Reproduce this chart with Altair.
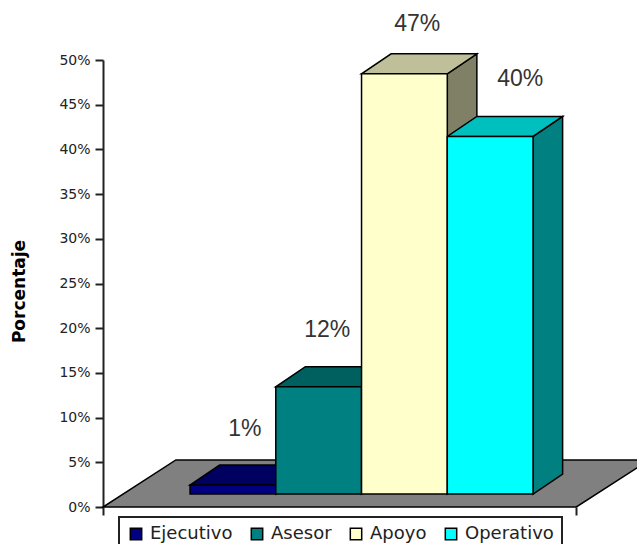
import altair as alt
import pandas as pd

# Survey shares per staff category
categories = ["Ejecutivo", "Asesor", "Apoyo", "Operativo"]
shares = [1, 12, 47, 40]
front_colors = ["#000080", "#008080", "#FFFFCC", "#00FFFF"]
top_colors = ["#000060", "#006060", "#BFBF99", "#00BFBF"]
side_colors = ["#000040", "#004040", "#808066", "#008080"]
y_ticks = [0, 5, 10, 15, 20, 25, 30, 35, 40, 45, 50]

# Oblique projection, in axis units: one x unit is one bar, y units are percent
WIDTH, HEIGHT = 534, 447
X_MAX = WIDTH / 85.75
FIRST_BAR = 1.015
BASE = 1.45
DEPTH_X, DEPTH_Y = 0.345, 2.24
FLOOR_W, FLOOR_DX, FLOOR_DY = 5.52, 0.85, 5.26
# Hand placed data labels: shift from the bar's front top edge
LABEL_SHIFT = {"Ejecutivo": (0.14, 6.3), "Asesor": (0.1, 6.3), "Apoyo": (0.15, 5.6), "Operativo": (0.35, 6.4)}

fronts, tops, sides, labels = [], [], [], []
for i, (name, v) in enumerate(zip(categories, shares)):
    x0, x1 = FIRST_BAR + i, FIRST_BAR + i + 1
    b, t = BASE, BASE + v
    fronts.append({"name": name, "x0": x0, "x1": x1, "b": b, "t": t})
    for x, lo, hi in [(x0, t, t), (x0 + DEPTH_X, t, t + DEPTH_Y), (x1, t, t + DEPTH_Y), (x1 + DEPTH_X, t + DEPTH_Y, t + DEPTH_Y)]:
        tops.append({"name": name, "x": x, "lo": lo, "hi": hi, "c": top_colors[i]})
    for x, lo, hi in [(x1, b, t), (x1 + DEPTH_X, b + DEPTH_Y, t + DEPTH_Y)]:
        sides.append({"name": name, "x": x, "lo": lo, "hi": hi, "c": side_colors[i]})
    sx, sy = LABEL_SHIFT[name]
    labels.append({"x": (x0 + x1) / 2 + sx, "y": t + sy, "text": f"{v}%"})

floor = pd.DataFrame([
    {"x": 0, "lo": 0, "hi": 0},
    {"x": FLOOR_DX, "lo": 0, "hi": FLOOR_DY},
    {"x": FLOOR_W, "lo": 0, "hi": FLOOR_DY},
    {"x": FLOOR_W + FLOOR_DX, "lo": FLOOR_DY, "hi": FLOOR_DY},
])

x_scale = alt.Scale(domain=[0, X_MAX], nice=False, zero=False)
y_scale = alt.Scale(domain=[0, 50], nice=False)

# Every layer carries the same axis definitions so they merge cleanly
x_axis = alt.Axis(
    values=[0, FLOOR_W], labels=False, title=None, grid=False, domain=False,
    tickSize=8, tickWidth=2, tickColor="#222222")
y_axis = alt.Axis(
    values=y_ticks, labelExpr="datum.value + '%'", title="Porcentaje", grid=False,
    domainColor="#222222", domainWidth=2, tickColor="#222222", tickWidth=2, tickSize=8,
    labelFont="DejaVu Sans", labelFontSize=14, labelColor="#222222", labelPadding=5,
    titleFont="DejaVu Sans", titleFontWeight="bold", titleFontSize=17, titleColor="black",
    titleX=-75, titleY=231)

X = alt.X("x:Q", scale=x_scale, axis=x_axis)
Y = alt.Y("lo:Q", scale=y_scale, axis=y_axis)
Y2 = alt.Y2("hi:Q")

floor_layer = alt.Chart(floor).mark_area(orient="vertical", fill="#808080", stroke="black", strokeWidth=1.5).encode(x=X, y=Y, y2=Y2)

side_layer = alt.Chart(pd.DataFrame(sides)).mark_area(orient="vertical", stroke="black", strokeWidth=1.5).encode(
    x=X, y=Y, y2=Y2, detail="name:N", fill=alt.Fill("c:N", scale=None))
top_layer = alt.Chart(pd.DataFrame(tops)).mark_area(orient="vertical", stroke="black", strokeWidth=1.5).encode(
    x=X, y=Y, y2=Y2, detail="name:N", fill=alt.Fill("c:N", scale=None))

front_layer = alt.Chart(pd.DataFrame(fronts)).mark_bar(stroke="black", strokeWidth=1.5).encode(
    x=alt.X("x0:Q", scale=x_scale, axis=x_axis),
    x2="x1:Q",
    y=alt.Y("b:Q", scale=y_scale, axis=y_axis),
    y2="t:Q",
    fill=alt.Fill("name:N", scale=alt.Scale(domain=categories, range=front_colors), legend=alt.Legend(
        orient="none", legendX=16, legendY=457, columns=4, direction="horizontal", title=None,
        strokeColor="#222222", fillColor="white", padding=8,
        symbolType="square", symbolSize=130, symbolStrokeColor="black", symbolStrokeWidth=1.5,
        labelFont="DejaVu Sans", labelFontSize=18, labelColor="#222222", labelOffset=5,
        columnPadding=15, gridAlign="each")),
)

label_layer = alt.Chart(pd.DataFrame(labels)).mark_text(
    font="Liberation Sans", fontSize=23, color="#333333", align="center", baseline="middle"
).encode(x=alt.X("x:Q", scale=x_scale, axis=x_axis), y=alt.Y("y:Q", scale=y_scale, axis=y_axis), text="text:N")

chart = alt.layer(floor_layer, side_layer, top_layer, front_layer, label_layer).resolve_scale(
    fill="independent"
).properties(
    width=WIDTH, height=HEIGHT,
    padding={"left": 103, "top": 60, "right": 0, "bottom": 37},
    autosize=alt.AutoSizeParams(type="none"),
    background="white",
).configure_view(stroke=None).configure_legend(strokeWidth=2)

chart.save("out.html", embed_options={"renderer": "svg", "actions": False})
